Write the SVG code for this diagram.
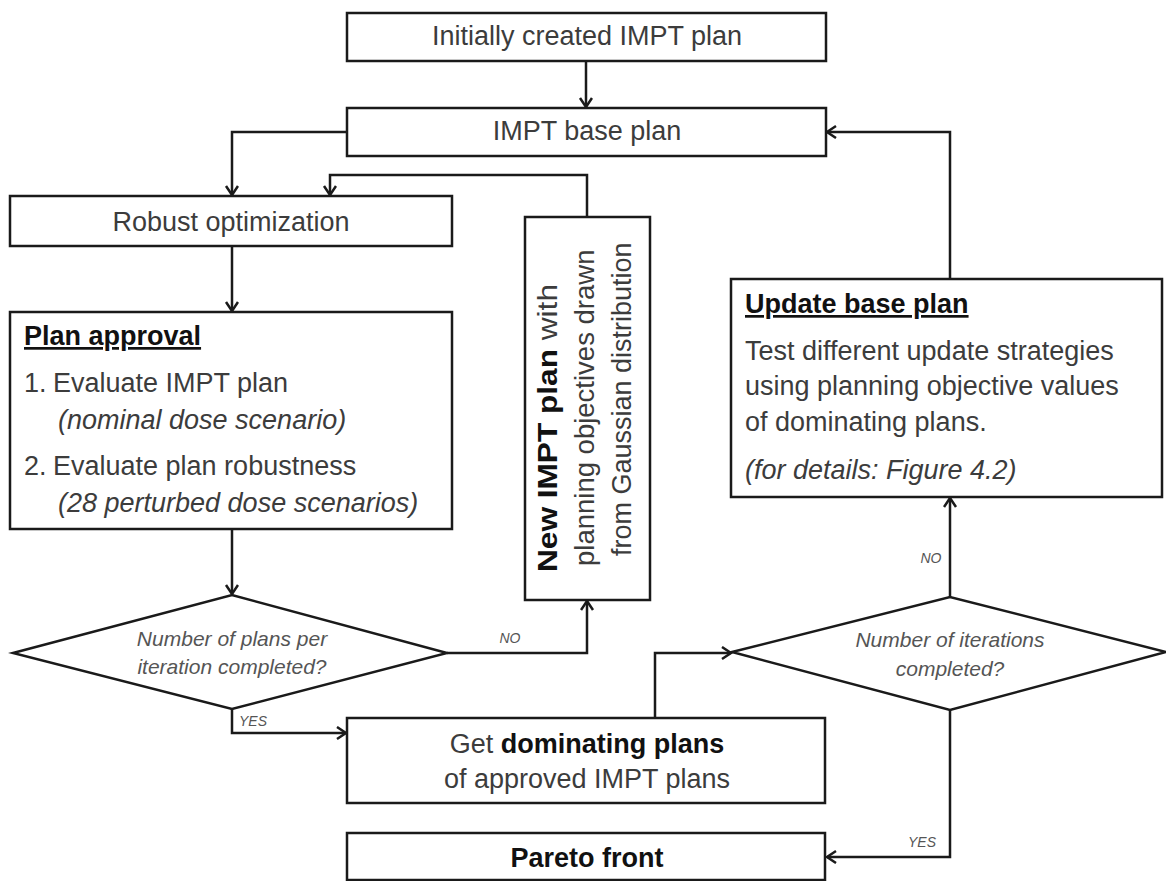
<svg xmlns="http://www.w3.org/2000/svg" width="1166" height="881" viewBox="0 0 1166 881">
<style>
.box{fill:#fff;stroke:#1a1a1a;stroke-width:2.5}
.ln{fill:none;stroke:#1a1a1a;stroke-width:2.5}
.t{font-family:"Liberation Sans",Arial,sans-serif;font-size:27px;fill:#3c3c3c}
.c{text-anchor:middle}
.b{font-weight:bold;fill:#111}
.i{font-style:italic}
.q{font-family:"Liberation Sans",Arial,sans-serif;font-size:21px;font-style:italic;fill:#555;text-anchor:middle}
.lbl{font-family:"Liberation Sans",Arial,sans-serif;font-size:14px;font-style:italic;fill:#555}
</style>
<defs>
<marker id="arr" markerUnits="userSpaceOnUse" markerWidth="14" markerHeight="16" refX="11" refY="7" orient="auto">
<path d="M2,1 L11,7 L2,13" fill="none" stroke="#1a1a1a" stroke-width="2.5"/>
</marker>
</defs>
<rect width="1166" height="881" fill="#fff"/>
<g id="connectors">
<path class="ln" d="M586,61 V107" marker-end="url(#arr)"/>
<path class="ln" d="M347,132 H232 V195" marker-end="url(#arr)"/>
<path class="ln" d="M587,217 V175 H330 V195" marker-end="url(#arr)"/>
<path class="ln" d="M232,246 V311" marker-end="url(#arr)"/>
<path class="ln" d="M232,529 V594" marker-end="url(#arr)"/>
<path class="ln" d="M447,653 H587 V601" marker-end="url(#arr)"/>
<path class="ln" d="M232,709 V733 H346" marker-end="url(#arr)"/>
<path class="ln" d="M655,718 V653 H731" marker-end="url(#arr)"/>
<path class="ln" d="M950,597 V498" marker-end="url(#arr)"/>
<path class="ln" d="M950,279 V132 H827" marker-end="url(#arr)"/>
<path class="ln" d="M950,710 V857 H827" marker-end="url(#arr)"/>
<text class="lbl" x="510" y="643" text-anchor="middle">NO</text>
<text class="lbl" x="239" y="726">YES</text>
<text class="lbl" x="931" y="563" text-anchor="middle">NO</text>
<text class="lbl" x="922" y="847" text-anchor="middle">YES</text>
</g>
<g id="initial">
<rect class="box" x="347" y="13" width="479" height="48"/>
<text class="t c" x="587" y="45">Initially created IMPT plan</text>
</g>
<g id="base">
<rect class="box" x="347" y="108" width="479" height="48"/>
<text class="t c" x="587" y="140">IMPT base plan</text>
</g>
<g id="robust">
<rect class="box" x="10" y="196" width="442" height="50"/>
<text class="t c" x="231" y="231">Robust optimization</text>
</g>
<g id="approval">
<rect class="box" x="10" y="312" width="442" height="217"/>
<text class="t b" x="24" y="345" text-decoration="underline">Plan approval</text>
<text class="t" x="24" y="392">1.</text>
<text class="t" x="53" y="392">Evaluate IMPT plan</text>
<text class="t i" x="58" y="429">(nominal dose scenario)</text>
<text class="t" x="24" y="475">2.</text>
<text class="t" x="53" y="475">Evaluate plan robustness</text>
<text class="t i" x="58" y="512">(28 perturbed dose scenarios)</text>
</g>
<g id="newplan">
<rect class="box" x="525" y="217" width="125" height="383"/>
<text class="t" style="font-size:28px" transform="translate(557,572) rotate(-90)" textLength="288" lengthAdjust="spacingAndGlyphs"><tspan class="b">New IMPT plan</tspan> with</text>
<text class="t" style="font-size:27.5px" transform="translate(594,566) rotate(-90)">planning objectives drawn</text>
<text class="t" style="font-size:27px" transform="translate(631,556) rotate(-90)">from Gaussian distribution</text>
</g>
<g id="decision1">
<polygon class="box" points="13,653 232,595 447,653 232,709"/>
<text class="q" x="232" y="646">Number of plans per</text>
<text class="q" x="232" y="674">iteration completed?</text>
</g>
<g id="dominating">
<rect class="box" x="347" y="718" width="478" height="85"/>
<text class="t c" x="587" y="753">Get <tspan class="b">dominating plans</tspan></text>
<text class="t c" x="587" y="788">of approved IMPT plans</text>
</g>
<g id="pareto">
<rect class="box" x="347" y="833" width="478" height="47"/>
<text class="t c b" x="587" y="867">Pareto front</text>
</g>
<g id="decision2">
<polygon class="box" points="732,652 950,597 1166,652 950,710"/>
<text class="q" x="950" y="647">Number of iterations</text>
<text class="q" x="950" y="676">completed?</text>
</g>
<g id="update">
<rect class="box" x="731" y="279" width="431" height="218"/>
<text class="t b" x="745" y="313" text-decoration="underline">Update base plan</text>
<text class="t" x="745" y="360">Test different update strategies</text>
<text class="t" x="745" y="395">using planning objective values</text>
<text class="t" x="745" y="431">of dominating plans.</text>
<text class="t i" x="745" y="479">(for details: Figure 4.2)</text>
</g>
</svg>
